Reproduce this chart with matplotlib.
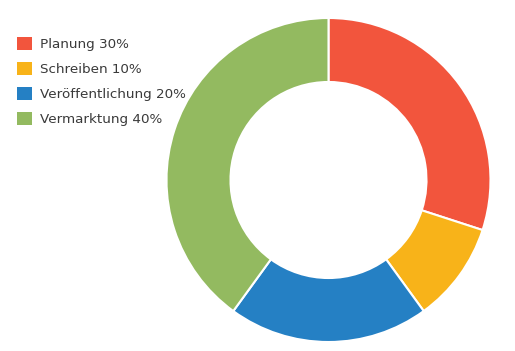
import matplotlib.pyplot as plt
from matplotlib.patches import Patch

labels = ['Planung', 'Schreiben', 'Veröffentlichung', 'Vermarktung']
shares = [30, 10, 20, 40]
colors = ['#F2553D', '#F8B319', '#2580C4', '#93BA60']

W, H = 515, 351
fig = plt.figure(figsize=(W / 100, H / 100), dpi=100)

# donut axes: centre ~(328, 180) px, outer radius ~162 px
cx, cy, R = 328.5, 180, 162
ax = fig.add_axes([(cx - R) / W, (H - cy - R) / H, 2 * R / W, 2 * R / H])
wedges, _ = ax.pie(shares, colors=colors, startangle=90, counterclock=False,
                   radius=1, wedgeprops=dict(width=0.395, edgecolor='white', linewidth=1.5))
ax.set_xlim(-1, 1)
ax.set_ylim(-1, 1)
ax.set_aspect('equal')
ax.axis('off')

handles = [Patch(facecolor=c, edgecolor='none') for c in colors]
texts = [f'{l} {s}%' for l, s in zip(labels, shares)]
leg = fig.legend(handles, texts, loc='upper left', bbox_to_anchor=(17 / W, 1 - 37 / H),
                 frameon=False, fontsize=9.7, handlelength=1.15, handleheight=1.15,
                 handletextpad=0.55, labelspacing=0.8, borderpad=0, borderaxespad=0)
for t in leg.get_texts():
    t.set_color('#3a3a3a')

fig.savefig('out.png', dpi=100)
